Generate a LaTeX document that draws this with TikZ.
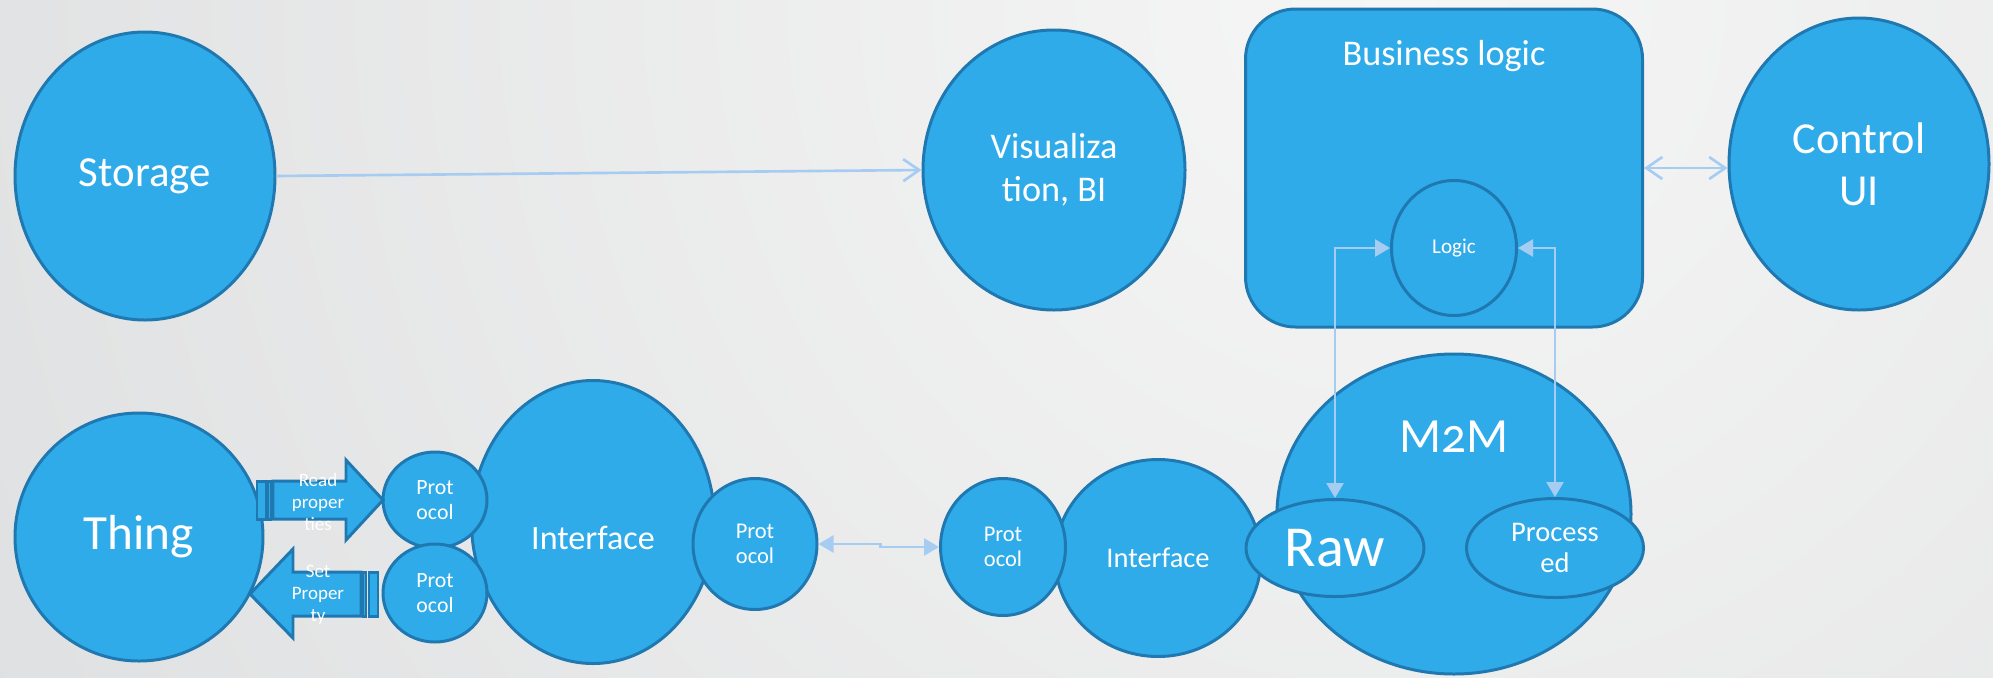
\documentclass[tikz,border=0pt]{standalone}
\usepackage{fontspec}
\setmainfont{Carlito}[Numbers=OldStyle]
\usepackage{tikz}
\usetikzlibrary{arrows.meta}
\usetikzlibrary{positioning}
\usetikzlibrary{shapes.geometric}

\definecolor{blobfill}{HTML}{30ABEA}
\definecolor{blobedge}{HTML}{1F78B0}
\definecolor{linkblue}{HTML}{A6CCF2}
\definecolor{bglight}{HTML}{F6F6F6}
\definecolor{bgdark}{HTML}{C9CBCD}

\newcommand{\fsz}[2]{\fontsize{#1}{#2}\selectfont}

\begin{document}
\begin{tikzpicture}[x=0.1mm, y=-0.1mm,
    text=white,
    blob/.style={shape=ellipse,
      draw=blobedge,
      fill=blobfill,
      line width=0.85pt,
      inner sep=0pt,
      align=center},
    band/.style={draw=blobedge,
      fill=blobfill,
      line width=0.85pt},
    link/.style={draw=linkblue, line width=0.75pt},
    both/.style={link,
      {Triangle[length=1.5mm,width=1.7mm]}-{Triangle[length=1.5mm,width=1.7mm]}},
    barb/.style={link, -{Straight Barb[length=1.6mm,width=2.2mm]}},
    barbs/.style={link,
      {Straight Barb[length=1.6mm,width=2.2mm]}-{Straight Barb[length=1.6mm,width=2.2mm]}}]

    \path [use as bounding box] (0,0) rectangle (1993,677);
    \begin{scope}
      \clip (0,0) rectangle (1993,677);
      \shade[inner color=bglight, outer color=bgdark] (1400,0) circle[radius=310mm];
    \end{scope}

    % top row
    \node[name=storage, blob,
      minimum width=26mm, minimum height=28.8mm,
      font=\fsz{12.2}{14}] at (145,176) {Storage};

    \node[name=vis, blob,
      minimum width=26.2mm, minimum height=28mm,
      font=\fsz{10.3}{12.2}] at (1054,170) {Visualiza\\tion, BI};

    \node[name=biz,
      shape=rectangle,
      rounded corners=5mm,
      draw=blobedge, fill=blobfill,
      line width=0.85pt,
      minimum width=39.7mm, minimum height=31.8mm] at (1444,168) {};

    \node[name=biztitle,
      below=2mm of biz.north,
      font=\fsz{10.3}{12}] {Business logic};

    \node[name=logic, blob,
      minimum width=12.5mm, minimum height=13.5mm,
      font=\fsz{6}{7}] at (1454,248) {Logic};

    \node[name=ctrl, blob,
      minimum width=26mm, minimum height=29.2mm,
      font=\fsz{12.6}{14.8}] at (1859,164) {Control\\UI};

    % bottom row
    \node[name=thing, blob,
      minimum width=24.8mm, minimum height=24.8mm,
      font=\fsz{14}{16}] at (139,537) {Thing};

    \node[name=intA, blob,
      minimum width=24.3mm, minimum height=28.3mm,
      text height=5.4mm, text depth=0pt,
      font=\fsz{9.7}{11}] at (593,522) {Interface};

    \node[name=intB, blob,
      minimum width=20.6mm, minimum height=19.7mm,
      font=\fsz{8.1}{9.5}] at (1158,558) {Interface};

    \node[name=protRd, blob,
      minimum width=10.4mm, minimum height=9.6mm,
      font=\fsz{6.2}{7.1}] at (435,500) {Prot\\ocol};

    \node[name=protSt, blob,
      minimum width=10.4mm, minimum height=9.8mm,
      font=\fsz{6.2}{7.1}] at (435,593) {Prot\\ocol};

    \node[name=protA, blob,
      minimum width=12.4mm, minimum height=13.1mm,
      font=\fsz{6.4}{7.1}] at (755,544) {Prot\\ocol};

    \node[name=protB, blob,
      minimum width=12.5mm, minimum height=13.7mm,
      font=\fsz{6.4}{7.1}] at (1003,547) {Prot\\ocol};

    \node[name=m2m, blob,
      minimum width=35.4mm, minimum height=32mm] at (1454,514) {};

    \node[name=m2mtitle,
      below=5.6mm of m2m.north,
      font=\fsz{14}{16}] {M2M};

    \node[name=raw, blob,
      minimum width=17.8mm, minimum height=9.7mm,
      font=\fsz{16.5}{18}] at (1335,548) {Raw};

    \node[name=proc, blob,
      minimum width=17.7mm, minimum height=9.9mm,
      font=\fsz{8.1}{8.6}] at (1555,548) {Process\\ed};

    % striped block arrows between thing and the protocols
    \draw[band] (257,481) rectangle (266,519);
    \draw[band] (268,481) rectangle (271,519);
    \draw[band] (273,481) -- (346,481) -- (346,460) -- (383,500)
      -- (346,540) -- (346,519) -- (273,519) -- cycle;
    \node[name=readlbl, align=center,
      font=\fsz{5.4}{6.3}] at (318,502) {Read\\proper\\ties};

    \draw[band] (369,572) rectangle (378,616);
    \draw[band] (363,572) rectangle (366,616);
    \draw[band] (361,572) -- (293,572) -- (293,549) -- (250,594)
      -- (293,638) -- (293,616) -- (361,616) -- cycle;
    \node[name=setlbl, align=center,
      font=\fsz{5.4}{6.3}] at (318,595) {Set\\Proper\\ty};

    % connectors
    \path (storage.east) edge[barb] (vis.west);
    \path (biz.east) edge[barbs] (biz.east -| ctrl.west);
    \draw[both] (logic.west) -| (raw.north);
    \draw[both] (logic.east) -| (proc.north);
    \draw[both] (protA.east) -- ++(62,0) |- (protB.west);

  \end{tikzpicture}
\end{document}
